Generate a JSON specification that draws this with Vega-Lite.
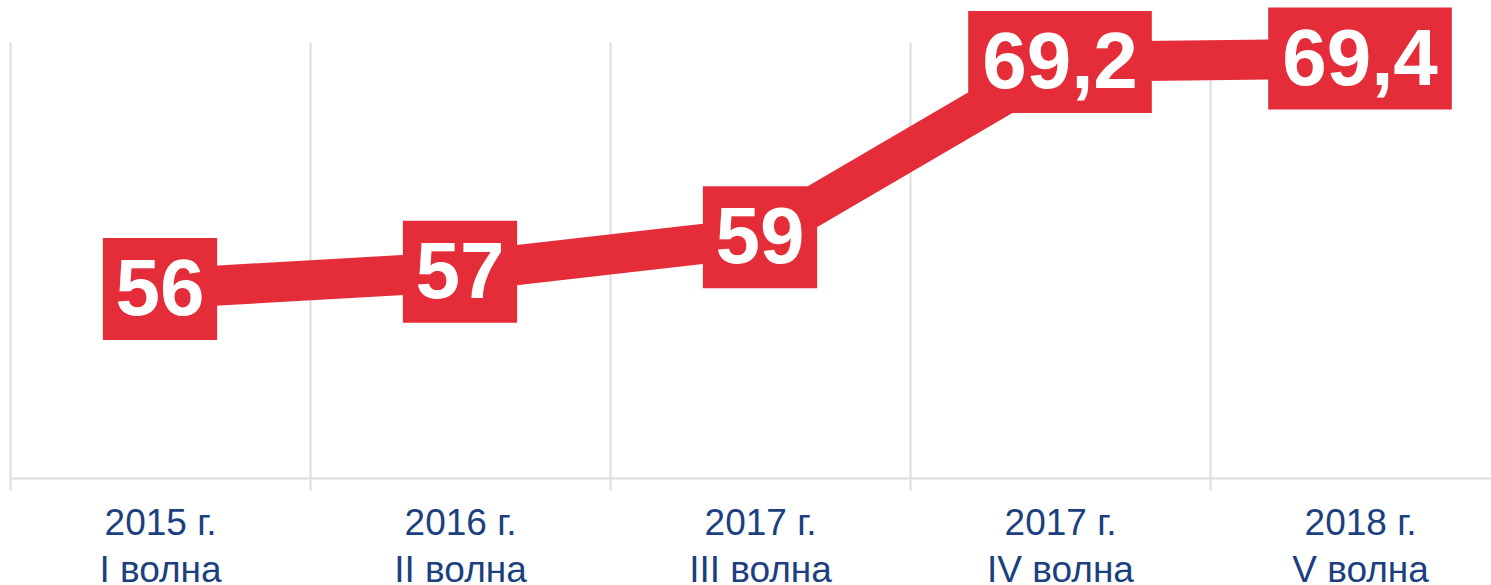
{
  "$schema": "https://vega.github.io/schema/vega-lite/v6.json",
  "width": 1500,
  "height": 436,
  "autosize": {"type": "none"},
  "padding": {"left": 10, "top": 42, "right": 0, "bottom": 107},
  "background": "white",
  "config": {"view": {"stroke": null}},
  "data": {
    "values": [
      {"period": "2015 г.|I волна", "value": 56, "label": "56"},
      {"period": "2016 г.|II волна", "value": 57, "label": "57"},
      {"period": "2017 г.|III волна", "value": 59, "label": "59"},
      {"period": "2017 г.|IV волна", "value": 69.2, "label": "69,2"},
      {"period": "2018 г.|V волна", "value": 69.4, "label": "69,4"}
    ]
  },
  "encoding": {
    "x": {
      "field": "period",
      "type": "nominal",
      "sort": null,
      "scale": {"type": "band", "paddingInner": 0, "paddingOuter": 0},
      "axis": {
        "title": null,
        "tickBand": "extent",
        "grid": true,
        "gridColor": "#dddddd",
        "gridWidth": 2,
        "domainColor": "#dddddd",
        "domainWidth": 2,
        "tickColor": "#dddddd",
        "tickWidth": 2,
        "tickSize": 12,
        "labelAngle": 0,
        "labelExpr": "split(datum.label, '|')",
        "labelFont": "Liberation Sans",
        "labelFontSize": 37,
        "labelLineHeight": 47,
        "labelColor": "#1b3f7f",
        "labelPadding": 15,
        "labelBaseline": "top"
      }
    },
    "y": {
      "field": "value",
      "type": "quantitative",
      "scale": {"domain": [45, 70.36], "zero": false, "nice": false},
      "axis": null
    }
  },
  "layer": [
    {
      "mark": {"type": "line", "color": "#e52d3a", "strokeWidth": 40, "strokeJoin": "miter"}
    },
    {
      "mark": {"type": "point", "filled": true, "opacity": 1, "color": "#e52d3a", "size": 10404, "strokeWidth": 0},
      "encoding": {
        "shape": {
          "field": "label",
          "type": "nominal",
          "legend": null,
          "scale": {
            "domain": ["56", "57", "59", "69,2", "69,4"],
            "range": [
              "M-1.12,-1H1.12V1H-1.12Z",
              "M-1.12,-1H1.12V1H-1.12Z",
              "M-1.12,-1H1.12V1H-1.12Z",
              "M-1.8,-1H1.8V1H-1.8Z",
              "M-1.8,-1H1.8V1H-1.8Z"
            ]
          }
        }
      }
    },
    {
      "mark": {"type": "text", "color": "white", "font": "Liberation Sans", "fontWeight": "bold", "fontSize": 80, "baseline": "middle", "align": "center", "dy": 2},
      "encoding": {"text": {"field": "label", "type": "nominal"}}
    }
  ]
}
